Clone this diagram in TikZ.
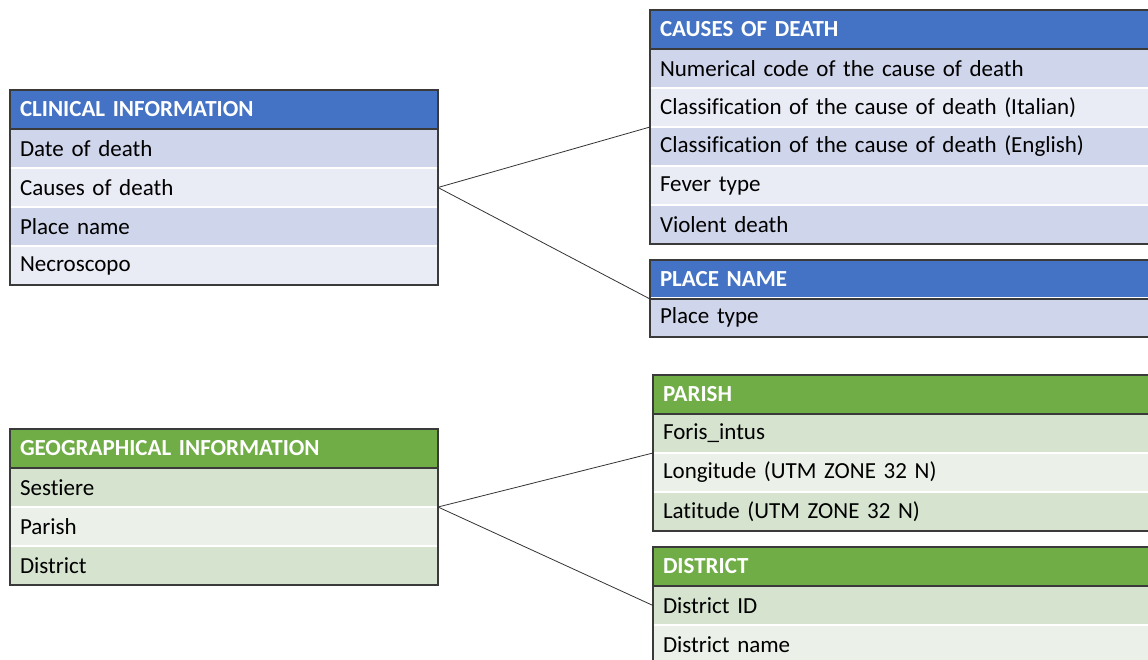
\documentclass[tikz,border=0pt]{standalone}
\usepackage{fontspec}
\setmainfont{Carlito}[Ligatures=NoCommon]
\definecolor{hblue}{HTML}{4472C4}
\definecolor{bdark}{HTML}{CFD5EA}
\definecolor{blight}{HTML}{E9EBF5}
\definecolor{hgreen}{HTML}{70AD47}
\definecolor{gdark}{HTML}{D5E3CF}
\definecolor{glight}{HTML}{EBF1E9}
\definecolor{bordc}{HTML}{3A3A3A}
\begin{document}
\begin{tikzpicture}[x=1pt,y=-1pt,
  cell/.style={anchor=north west, draw=white, line width=1.2pt, inner xsep=10pt, inner ysep=0pt,
    outer sep=0pt, minimum height=39pt, align=left, font=\fontsize{23}{27}\selectfont},
  lcell/.style={cell, text width=408pt},
  rcell/.style={cell, text width=510pt},
  hdrb/.style={fill=hblue, text=white, font=\fontsize{23}{27}\selectfont\bfseries},
  hdrg/.style={fill=hgreen, text=white, font=\fontsize{23}{27}\selectfont\bfseries},
  bd/.style={fill=bdark}, bl/.style={fill=blight},
  gd/.style={fill=gdark}, gl/.style={fill=glight},
  border/.style={draw=bordc, line width=1.3pt},
  link/.style={draw=black!80, line width=0.8pt}]
\useasboundingbox (0,0) rectangle (1148,659);
\clip (0,0) rectangle (1148,659);
% Clinical information
\node[lcell,hdrb] (ci0) at (10,90) {CLINICAL INFORMATION};
\node[lcell,bd] (ci1) at (10,129) {Date of death};
\node[lcell,bl] (ci2) at (10,168) {Causes of death};
\node[lcell,bd] (ci3) at (10,207) {Place name};
\node[lcell,bl] (ci4) at (10,246) {Necroscopo};
\draw[border] (ci0.north west) rectangle (ci4.south east);
\draw[border] (ci0.south west) -- (ci0.south east);
% Causes of death
\node[rcell,hdrb] (cd0) at (650,10) {CAUSES OF DEATH};
\node[rcell,bd] (cd1) at (650,49) {Numerical code of the cause of death};
\node[rcell,bl] (cd2) at (650,88) {Classification of the cause of death (Italian)};
\node[rcell,bd] (cd3) at (650,127) {Classification of the cause of death (English)};
\node[rcell,bl] (cd4) at (650,166) {Fever type};
\node[rcell,bd] (cd5) at (650,205) {Violent death};
\draw[border] (cd0.north west) rectangle (cd5.south east);
\draw[border] (cd0.south west) -- (cd0.south east);
% Place name
\node[rcell,hdrb] (pn0) at (650,260) {PLACE NAME};
\node[rcell,bd] (pn1) at (650,298) {Place type};
\draw[border] (pn0.north west) rectangle (pn1.south east);
\draw[border] (pn0.south west) -- (pn0.south east);
% Geographical information
\node[lcell,hdrg] (gi0) at (10,429) {GEOGRAPHICAL INFORMATION};
\node[lcell,gd] (gi1) at (10,468) {Sestiere};
\node[lcell,gl] (gi2) at (10,507) {Parish};
\node[lcell,gd] (gi3) at (10,546) {District};
\draw[border] (gi0.north west) rectangle (gi3.south east);
\draw[border] (gi0.south west) -- (gi0.south east);
% Parish
\node[rcell,hdrg] (pa0) at (653,375) {PARISH};
\node[rcell,gd] (pa1) at (653,414) {Foris\_intus};
\node[rcell,gl] (pa2) at (653,453) {Longitude (UTM ZONE 32 N)};
\node[rcell,gd] (pa3) at (653,492) {Latitude (UTM ZONE 32 N)};
\draw[border] (pa0.north west) rectangle (pa3.south east);
\draw[border] (pa0.south west) -- (pa0.south east);
% District
\node[rcell,hdrg] (di0) at (653,547) {DISTRICT};
\node[rcell,gd] (di1) at (653,586) {District ID};
\node[rcell,gl] (di2) at (653,625) {District name};
\draw[border] (di0.north west) rectangle (di2.south east);
\draw[border] (di0.south west) -- (di0.south east);
% Links
\draw[link] (ci2.east) -- (cd2.south west);
\draw[link] (ci2.east) -- (pn0.south west);
\draw[link] (gi1.south east) -- (pa1.south west);
\draw[link] (gi1.south east) -- (di1.west);
\end{tikzpicture}
\end{document}
